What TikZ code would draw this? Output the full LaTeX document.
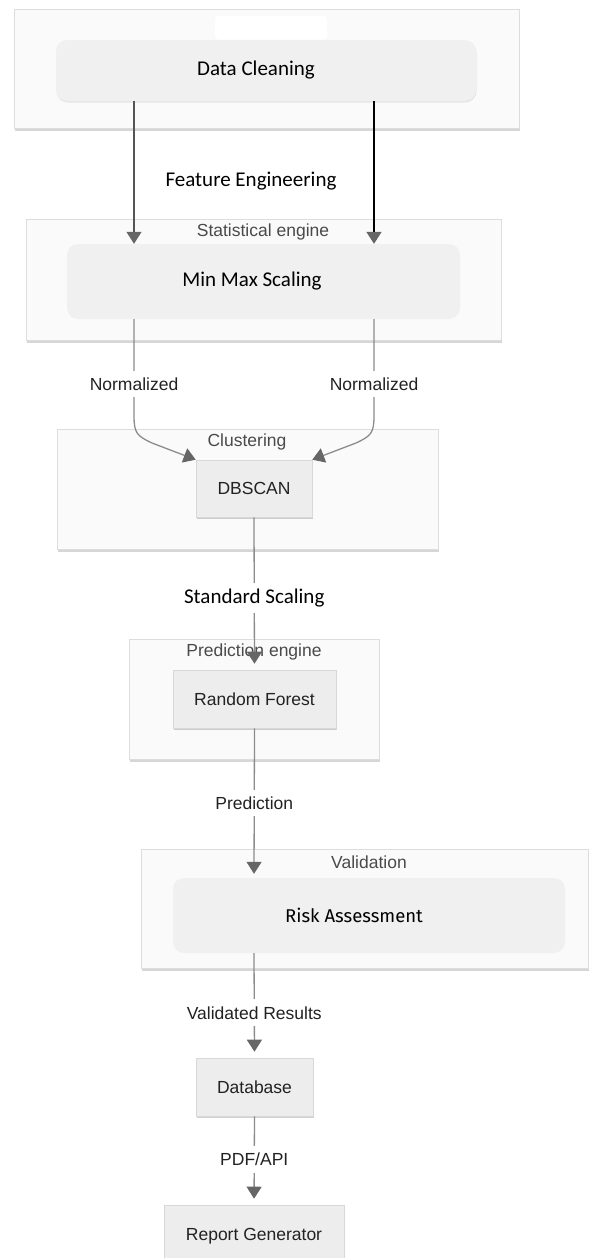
\documentclass[tikz,border=0pt]{standalone}
\usepackage{fontspec}
\setmainfont{Liberation Sans}
\newfontfamily\calfont{Carlito}
\newfontfamily\riskfont{Fira Sans}
\usetikzlibrary{arrows.meta,shadows,calc}
\definecolor{contfill}{HTML}{FAFAFA}
\definecolor{contdraw}{HTML}{DDDDDD}
\definecolor{boxfill}{HTML}{EDEDED}
\definecolor{boxdraw}{HTML}{D8D8D8}
\definecolor{roundfill}{HTML}{F0F0F0}
\definecolor{linegray}{HTML}{8C8C8C}
\definecolor{darkline}{HTML}{555555}
\definecolor{tipgray}{HTML}{666666}
\definecolor{titlegray}{HTML}{4A4A4A}
\definecolor{labelcol}{HTML}{222222}
\begin{document}
\begin{tikzpicture}[x=1pt,y=-1pt,
  container/.style={draw=contdraw, fill=contfill, line width=0.8pt, inner sep=0pt,
    drop shadow={shadow xshift=1pt, shadow yshift=-2.5pt, fill=black, opacity=0.16}},
  roundbox/.style={fill=roundfill, rounded corners=11pt, inner sep=0pt},
  sqbox/.style={draw=boxdraw, fill=boxfill, line width=0.6pt, inner sep=0pt,
    drop shadow={shadow xshift=1pt, shadow yshift=-2pt, fill=black, opacity=0.18},
    font=\fontsize{17.5}{20}\selectfont, text=labelcol},
  titletext/.style={font=\fontsize{17.5}{20}\selectfont, text=titlegray, inner sep=0pt},
  lbl/.style={font=\fontsize{17.5}{20}\selectfont, text=labelcol, fill=white, inner xsep=2pt, inner ysep=7pt},
  calibri/.style={font=\calfont\fontsize{21}{24}\selectfont, text=black},
  conn/.style={draw=linegray, line width=1.3pt, -{Triangle[width=15pt,length=12pt,color=tipgray]}},
]
\useasboundingbox (0,0) rectangle (589,1258);
\clip (0,0) rectangle (589,1258);
\fill[white] (0,0) rectangle (589,1258);

% top container
\node[container, minimum width=505pt, minimum height=119pt] (topc) at (266.5,68.5) {};
\node[fill=white, rounded corners=4pt, minimum width=112pt, minimum height=24pt, inner sep=0pt] (patch) at (271,27.5) {};
\node[roundbox, minimum width=420pt, minimum height=61pt,
  drop shadow={shadow xshift=0.5pt, shadow yshift=-1.5pt, fill=black, opacity=0.08},
  label={[calibri, xshift=-10pt]center:Data Cleaning}] (clean) at (266,70.5) {};

% statistical engine
\node[container, minimum width=475pt, minimum height=121pt] (statc) at (263.5,279.5) {};
\node[titletext] (statt) at (263,232) {Statistical engine};
\node[roundbox, minimum width=393pt, minimum height=75pt,
  label={[calibri, xshift=-11.5pt]center:Min Max Scaling}] (minmax) at (263.5,281.5) {};

% clustering
\node[container, minimum width=381pt, minimum height=120pt] (clustc) at (247.5,489) {};
\node[titletext] (clustt) at (247,442) {Clustering};
\node[sqbox, minimum width=116pt, minimum height=57pt] (dbscan) at (254,488.5) {DBSCAN};

% prediction engine
\node[container, minimum width=250pt, minimum height=120pt] (predc) at (254,699) {};
\node[titletext] (predt) at (254,652) {Prediction engine};
\node[sqbox, minimum width=163pt, minimum height=58pt] (rf) at (254.5,699) {Random Forest};

% validation
\node[container, minimum width=447pt, minimum height=119pt] (valc) at (364.5,908.5) {};
\node[titletext] (valt) at (369,862) {Validation};
\node[roundbox, minimum width=392pt, minimum height=75pt,
  label={[font=\riskfont\fontsize{18.5}{22}\selectfont, text=black, xshift=-15pt]center:Risk Assessment}] (risk) at (369,915.5) {};

% bottom boxes
\node[sqbox, minimum width=117pt, minimum height=58pt] (db) at (254.5,1087) {Database};
\node[sqbox, minimum width=180pt, minimum height=62pt] (report) at (254,1236) {Report Generator};

\coordinate (lx) at (134,0);
\coordinate (rx) at (374,0);
\coordinate (cx) at (254,0);

% connectors
\draw[conn, draw=darkline, line width=1.2pt] (clean.south -| lx) -- (minmax.north -| lx);
\draw[conn, draw=black, line width=1.8pt] (clean.south -| rx) -- (minmax.north -| rx);
\node[calibri] (fe) at (251,181) {Feature Engineering};

\draw[conn] (minmax.south -| lx) -- node[lbl, pos=0.67] (nl) {Normalized} (134,416)
  .. controls (134,433) and (137,436) .. (152,443) -- (dbscan.north west);
\draw[conn] (minmax.south -| rx) -- node[lbl, pos=0.67] (nr) {Normalized} (374,416)
  .. controls (374,433) and (371,436) .. (356,443) -- (dbscan.north east);

\draw[conn, shorten >=6pt] (dbscan.south) -- node[lbl, calibri, pos=0.53, inner ysep=6pt] (ss) {Standard Scaling} (rf.north);
\draw[conn, shorten >=4pt] (rf.south) -- node[lbl, pos=0.5] (pl) {Prediction} (risk.north -| cx);
\draw[conn, shorten >=6pt] (risk.south -| cx) -- node[lbl, pos=0.571] (vl) {Validated Results} (db.north);
\draw[conn, shorten >=6pt] (db.south) -- node[lbl, pos=0.49] (al) {PDF/API} (report.north);
\end{tikzpicture}
\end{document}
